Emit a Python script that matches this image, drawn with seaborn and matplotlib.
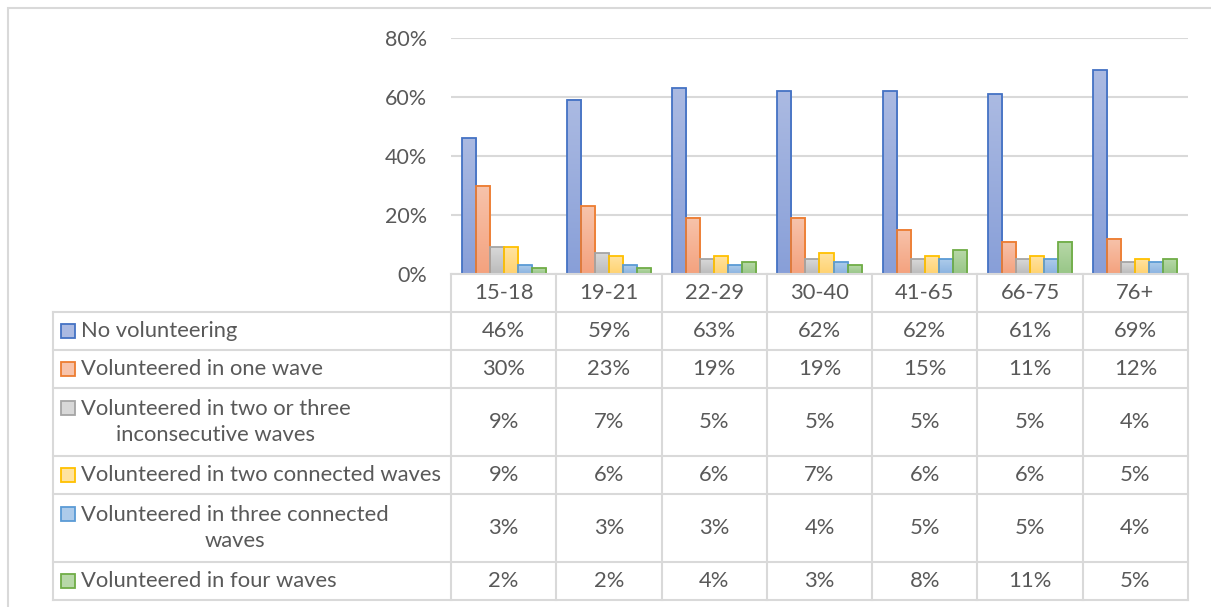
import numpy as np
import pandas as pd
import matplotlib
matplotlib.use("Agg")
import matplotlib.pyplot as plt
import seaborn as sns
from matplotlib.patches import Rectangle
from matplotlib.colors import to_rgb, to_hex

# ---- data -------------------------------------------------------------
age_groups = ["15-18", "19-21", "22-29", "30-40", "41-65", "66-75", "76+"]
series_names = [
    "No volunteering",
    "Volunteered in one wave",
    "Volunteered in two or three\ninconsecutive waves",
    "Volunteered in two connected waves",
    "Volunteered in three connected\nwaves",
    "Volunteered in four waves",
]
no_volunteering = [46, 59, 63, 62, 62, 61, 69]
one_wave = [30, 23, 19, 19, 15, 11, 12]
two_three_inconsecutive = [9, 7, 5, 5, 5, 5, 4]
two_connected = [9, 6, 6, 7, 6, 6, 5]
three_connected = [3, 3, 3, 4, 5, 5, 4]
four_waves = [2, 2, 4, 3, 8, 11, 5]
y_ticks = [0, 20, 40, 60, 80]

series_values = [no_volunteering, one_wave, two_three_inconsecutive,
                 two_connected, three_connected, four_waves]

# ---- styling ----------------------------------------------------------
edge_colors = ["#4472C4", "#ED7D31", "#A5A5A5", "#FFC000", "#5B9BD5", "#70AD47"]
grad_top = ["#ABBAE2", "#F7C3AB", "#D8D8D8", "#FFE3A0", "#ADCBEA", "#B7D8A8"]
grad_bottom = ["#889FD8", "#F4A27E", "#BBBBBB", "#FFD270", "#8AB3E0", "#98C687"]
text_color = "#595959"
line_color = "#D9D9D9"

df = pd.DataFrame(
    [(age, name, vals[i])
     for name, vals in zip(series_names, series_values)
     for i, age in enumerate(age_groups)],
    columns=["age", "series", "value"],
)

sns.set_theme(style="white")
plt.rcParams["font.family"] = ["Lato", "DejaVu Sans"]

W, H = 1211, 607
fig = plt.figure(figsize=(W / 100, H / 100), dpi=100)

# ---- bar chart ----------------------------------------------------------
ax = fig.add_axes([451 / W, 1 - 274 / H, (1188 - 451) / W, (274 - 38) / H])
sns.barplot(data=df, x="age", y="value", hue="series", order=age_groups,
            hue_order=series_names, palette=edge_colors, width=0.8,
            saturation=1, legend=False, ax=ax)

edge_hex = [c.lower() for c in edge_colors]
for patch in list(ax.patches):
    idx = edge_hex.index(to_hex(patch.get_facecolor()).lower())
    x0, w, h = patch.get_x(), patch.get_width(), patch.get_height()
    top, bot = np.array(to_rgb(grad_top[idx])), np.array(to_rgb(grad_bottom[idx]))
    t = np.linspace(0, 1, 64)[:, None, None]
    grad = top[None, None, :] * (1 - t) + bot[None, None, :] * t
    ax.imshow(grad, extent=(x0, x0 + w, 0, h), origin="upper",
              aspect="auto", zorder=2, interpolation="bilinear")
    patch.set_facecolor("none")
    patch.set_edgecolor(edge_colors[idx])
    patch.set_linewidth(1.3)
    patch.set_zorder(3)

ax.set_xlim(-0.5, len(age_groups) - 0.5)
ax.set_ylim(0, 80)
ax.set_yticks(y_ticks)
ax.set_yticklabels([f"{v}%" for v in y_ticks])
ax.tick_params(axis="y", length=0, pad=17, labelsize=15.5, labelcolor=text_color)
ax.set_xticks([])
ax.set_xlabel("")
ax.set_ylabel("")
ax.yaxis.grid(True, color=line_color, linewidth=1.5)
ax.set_axisbelow(True)
for s in ax.spines.values():
    s.set_visible(False)
ax.patch.set_alpha(0)

# ---- data table ---------------------------------------------------------
px_per_cat = (1188 - 451) / len(age_groups)
x_left = -0.5 - (451 - 53) / px_per_cat
row_heights = [38] + [68 if "\n" in n else 38 for n in series_names]
row_edges = np.concatenate([[0], np.cumsum(row_heights)])

tax = fig.add_axes([53 / W, 1 - 600 / H, (1188 - 53) / W, (600 - 274) / H])
tax.set_xlim(x_left, len(age_groups) - 0.5)
tax.set_ylim(row_edges[-1], 0)
tax.axis("off")

lk = dict(color=line_color, linewidth=1.5, clip_on=False, solid_capstyle="projecting")
tax.plot([-0.5, len(age_groups) - 0.5], [0, 0], **lk)
for y in row_edges[1:]:
    tax.plot([x_left, len(age_groups) - 0.5], [y, y], **lk)
for k in range(len(age_groups) + 1):
    tax.plot([-0.5 + k, -0.5 + k], [0, row_edges[-1]], **lk)
tax.plot([x_left, x_left], [row_edges[1], row_edges[-1]], **lk)

fs = 15.8
for j, age in enumerate(age_groups):
    tax.text(j, row_heights[0] / 2, age, ha="center", va="center",
             fontsize=fs, color=text_color)

for i, (name, vals) in enumerate(zip(series_names, series_values)):
    y0, y1 = row_edges[i + 1], row_edges[i + 2]
    yc = (y0 + y1) / 2
    for j, v in enumerate(vals):
        tax.text(j, yc, f"{v}%", ha="center", va="center",
                 fontsize=fs, color=text_color)
    key_y = yc if "\n" not in name else y0 + 20
    tax.add_patch(Rectangle((x_left + 8 / px_per_cat, key_y - 7), 14 / px_per_cat, 14,
                            facecolor=grad_top[i], edgecolor=edge_colors[i],
                            linewidth=1.3, clip_on=False))
    tax.text(x_left + 28 / px_per_cat, yc, name, ha="left", va="center",
             multialignment="center", fontsize=fs, color=text_color,
             linespacing=1.38)

# ---- outer chart frame ---------------------------------------------------
fig.add_artist(Rectangle((8 / W, -0.2), 1.5, 1 - 8 / H + 0.2,
                         transform=fig.transFigure, fill=False,
                         edgecolor=line_color, linewidth=1.5))

fig.savefig("out.png", dpi=100)
